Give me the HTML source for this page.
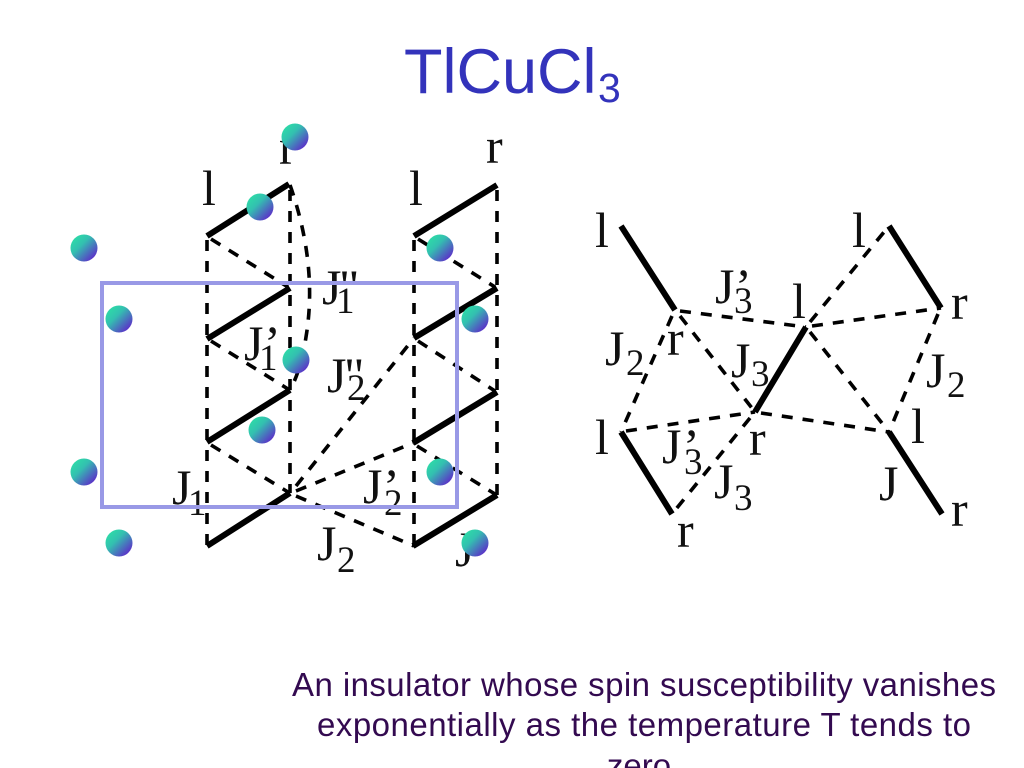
<!DOCTYPE html>
<html><head><meta charset="utf-8"><style>
html,body{margin:0;padding:0;background:#fff;width:1024px;height:768px;overflow:hidden}
svg{display:block}
.d{stroke:#000;stroke-width:3.6;stroke-dasharray:11 10;fill:none}
.t{stroke:#000;stroke-width:6;fill:none}
.m{font:50px "Liberation Serif",serif;fill:#111}
.s{font:37px "Liberation Serif",serif;fill:#111}
.b{font:33px "Liberation Sans",sans-serif;fill:#330a50;text-anchor:middle}
</style></head><body>
<svg width="1024" height="768" viewBox="0 0 1024 768" xmlns="http://www.w3.org/2000/svg">
<defs><linearGradient id="g" x1="0.15" y1="0.15" x2="0.85" y2="0.85"><stop offset="0" stop-color="#2ed8a8"/><stop offset="0.35" stop-color="#33c0b0"/><stop offset="1" stop-color="#5a35c8"/></linearGradient></defs>

<text x="404" y="93" font-family="Liberation Sans" font-size="63" fill="#3333bb">TlCuCl</text>
<text x="598" y="102" font-family="Liberation Sans" font-size="41" fill="#3333bb">3</text>

<!-- left dashed -->
<path class="d" d="M207 240V546M290 190V493M414 240V546M497 190V495"/>
<path class="d" d="M211 239L288 287M211 341L288 389M211 445L288 492M418 239L495 287M418 341L495 391M417 446L495 494"/>
<path class="d" d="M296 496L414 546M296 491L413 443M296 486L414 338"/>
<path class="d" d="M290 185Q318 265 306 337Q301 370 290 390"/>
<!-- left thick -->
<path class="t" d="M207 236L289 184M207 339L290 288M207 442L290 390M207 546L290 493M414 236L497 185M414 338L497 288M413 443L497 392M413 546L497 495"/>

<!-- right dashed -->
<path class="d" d="M680 311L806 327M680 316L755 412M672 316L621 432M626 431L755 412M750 418L672 514M761 413L889 432M810 322L889 226M812 326L941 308M810 332L889 432M938 314L889 432"/>
<path class="t" d="M621 226L675 310M621 432L672 514M806 327L755 412M889 226L941 308M889 432L942 514"/>

<!-- labels left -->
<text class="m" x="202" y="205">l</text>
<text class="m" x="279" y="164">r</text>
<text class="m" x="409" y="205">l</text>
<text class="m" x="486" y="163">r</text>
<text class="m" x="322" y="304">J</text><text class="m" x="339" y="304">"</text><text class="s" x="336" y="313">1</text>
<text class="m" x="244" y="360">J</text><text class="m" x="264" y="360">’</text><text class="s" x="259" y="370">1</text>
<text class="m" x="327" y="392">J</text><text class="m" x="344" y="392">"</text><text class="s" x="347" y="400">2</text>
<text class="m" x="172" y="504">J</text><text class="s" x="188" y="515">1</text>
<text class="m" x="363" y="503">J</text><text class="m" x="383" y="503">’</text><text class="s" x="384" y="515">2</text>
<text class="m" x="317" y="560">J</text><text class="s" x="337" y="572">2</text>
<text class="m" x="455" y="566">J</text>

<!-- labels right -->
<text class="m" x="595" y="247">l</text>
<text class="m" x="852" y="247">l</text>
<text class="m" x="715" y="303">J</text><text class="m" x="735" y="303">’</text><text class="s" x="734" y="313">3</text>
<text class="m" x="792" y="318">l</text>
<text class="m" x="951" y="319">r</text>
<text class="m" x="605" y="365">J</text><text class="s" x="626" y="375">2</text>
<text class="m" x="667" y="355">r</text>
<text class="m" x="731" y="377">J</text><text class="s" x="751" y="386">3</text>
<text class="m" x="926" y="387">J</text><text class="s" x="947" y="397">2</text>
<text class="m" x="595" y="454">l</text>
<text class="m" x="911" y="443">l</text>
<text class="m" x="749" y="455">r</text>
<text class="m" x="662" y="463">J</text><text class="m" x="683" y="463">’</text><text class="s" x="684" y="474">3</text>
<text class="m" x="714" y="498">J</text><text class="s" x="734" y="510">3</text>
<text class="m" x="879" y="500">J</text>
<text class="m" x="677" y="547">r</text>
<text class="m" x="951" y="526">r</text>

<!-- rect -->
<rect x="102" y="283" width="355" height="224" fill="none" stroke="#9999e6" stroke-width="4"/>

<!-- balls -->
<g fill="url(#g)">
<circle cx="295" cy="137" r="13.5"/><circle cx="260" cy="207" r="13.5"/><circle cx="84" cy="248" r="13.5"/><circle cx="119" cy="319" r="13.5"/>
<circle cx="296" cy="360" r="13.5"/><circle cx="262" cy="430" r="13.5"/><circle cx="84" cy="472" r="13.5"/><circle cx="119" cy="543" r="13.5"/>
<circle cx="440" cy="248" r="13.5"/><circle cx="475" cy="319" r="13.5"/><circle cx="440" cy="472" r="13.5"/><circle cx="475" cy="543" r="13.5"/>
</g>

<text class="b" x="644" y="696" textLength="704">An insulator whose spin susceptibility vanishes</text>
<text class="b" x="644" y="736" textLength="654">exponentially as the temperature T tends to</text>
<text class="b" x="639" y="777">zero</text>
</svg>
</body></html>
